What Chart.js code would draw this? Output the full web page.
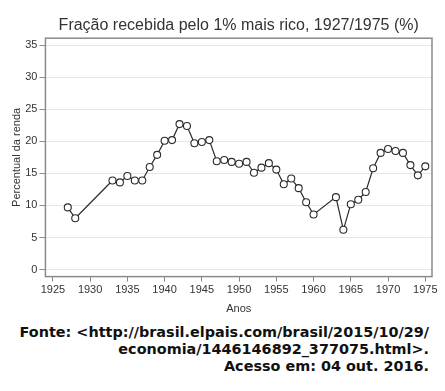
<!DOCTYPE html>
<html lang="pt">
<head>
<meta charset="utf-8">
<script src="https://cdn.jsdelivr.net/npm/chart.js@4.4.0/dist/chart.umd.min.js"></script>
<style>
    body { margin:0; background:#fff; width:445px; height:391px; overflow:hidden; }
    .chart-box { position:relative; width:445px; height:320px; }
    .fonte {
        font-family:"DejaVu Sans", sans-serif;
        font-weight:bold;
        font-size:14.4px;
        line-height:17px;
        color:#111;
        text-align:right;
        padding-right:16px;
        margin-top:4px;
        white-space:nowrap;
    }
</style>
</head>
<body>
<div class="chart-box"><canvas id="grafico"></canvas></div>
<div class="fonte">
    Fonte: &lt;http://brasil.elpais.com/brasil/2015/10/29/<br>
    economia/1446146892_377075.html&gt;.<br>
    Acesso em: 04 out. 2016.
</div>
<script>
    // anos e percentual da renda do 1% mais rico
    var anos = [1927,1928,1933,1934,1935,1936,1937,1938,1939,1940,1941,1942,1943,1944,1945,1946,1947,1948,1949,1950,
                1951,1952,1953,1954,1955,1956,1957,1958,1959,1960,1963,1964,1965,1966,1967,1968,1969,1970,1971,1972,
                1973,1974,1975];
    var percentual = [9.7,8.0,13.9,13.6,14.6,13.9,13.9,16.0,17.9,20.1,20.2,22.7,22.4,19.7,19.9,20.2,16.9,17.1,16.8,16.5,
                      16.8,15.1,15.9,16.6,15.6,13.3,14.2,12.7,10.5,8.6,11.3,6.2,10.2,10.9,12.1,15.8,18.2,18.8,18.5,18.2,
                      16.3,14.7,16.1];
    var ticksX = [1925,1930,1935,1940,1945,1950,1955,1960,1965,1970,1975];
    var ticksY = [0,5,10,15,20,25,30,35];

    var pontos = anos.map(function (a, i) { return {x: a, y: percentual[i]}; });

    // moldura em volta da area do grafico
    var moldura = {
        id: 'moldura',
        afterDraw: function (chart) {
            var c = chart.ctx, a = chart.chartArea;
            c.save();
            c.strokeStyle = '#8a8a8a';
            c.lineWidth = 1.5;
            c.strokeRect(a.left, a.top, a.right - a.left, a.bottom - a.top);
            c.restore();
        }
    };

    var fonte = {family: 'Liberation Sans, Arial, sans-serif', size: 11};

    new Chart(document.getElementById('grafico'), {
        type: 'scatter',
        data: {
            datasets: [{
                data: pontos,
                showLine: true,
                borderColor: '#2b2b2b',
                borderWidth: 1.2,
                pointRadius: 3.5,
                pointBorderWidth: 1.1,
                pointBackgroundColor: '#fff',
                pointBorderColor: '#2b2b2b'
            }]
        },
        plugins: [moldura],
        options: {
            responsive: true,
            maintainAspectRatio: false,
            animation: false,
            layout: {padding: {left: 10, right: 13, top: 2, bottom: 4}},
            plugins: {
                legend: {display: false},
                tooltip: {enabled: false},
                title: {
                    display: true,
                    fullSize: false,
                    text: 'Fração recebida pelo 1% mais rico, 1927/1975 (%)',
                    color: '#333',
                    font: {family: 'Liberation Sans, Arial, sans-serif', size: 16, weight: 'normal'},
                    padding: {top: 14, bottom: 3}
                }
            },
            scales: {
                x: {
                    type: 'linear',
                    min: 1924,
                    max: 1975.9,
                    afterBuildTicks: function (s) { s.ticks = ticksX.map(function (v) { return {value: v}; }); },
                    ticks: {color: '#333', font: fonte, padding: 2, maxRotation: 0, autoSkip: false,
                            callback: function (v) { return String(v); }},
                    grid: {drawOnChartArea: false, tickLength: 5, tickColor: '#8a8a8a'},
                    border: {display: false},
                    title: {display: true, text: 'Anos', color: '#333', font: fonte, padding: {top: 4, bottom: 0}}
                },
                y: {
                    min: -1.1,
                    max: 36.1,
                    afterBuildTicks: function (s) { s.ticks = ticksY.map(function (v) { return {value: v}; }); },
                    ticks: {color: '#333', font: fonte, padding: 2},
                    grid: {color: '#e6e6e6', lineWidth: 1, tickLength: 6, tickColor: '#8a8a8a'},
                    border: {display: false},
                    title: {display: true, text: 'Percentual da renda', color: '#333', font: fonte, padding: {top: 0, bottom: 0}}
                }
            }
        }
    });
</script>
</body>
</html>
